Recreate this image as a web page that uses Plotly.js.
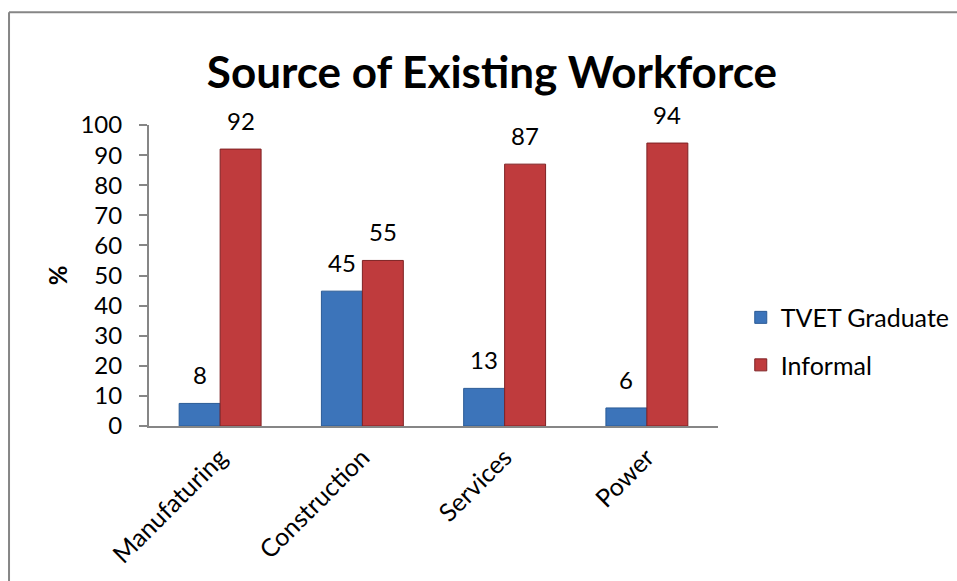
<!DOCTYPE html>
<html>
<head>
<meta charset="utf-8">
<script src="https://cdn.plot.ly/plotly-3.0.1.min.js"></script>
<style>
  html, body { margin: 0; padding: 0; background: #fff; }
  #chart { width: 957px; height: 581px; }
</style>
</head>
<body>
<div id="chart"></div>
<script>
const categories = ["Manufaturing", "Construction", "Services", "Power"];
const tvetValues = [8, 45, 13, 6];
const tvetBarHeights = [7.5, 44.8, 12.5, 6];
const informalValues = [92, 55, 87, 94];
const seriesNames = ["TVET Graduate", "Informal"];
const yTicks = [0, 10, 20, 30, 40, 50, 60, 70, 80, 90, 100];

const FONT = "Lato, 'Open Sans', sans-serif";
const BAR_OFFSET_PX = 20.5;

const traces = [
  {
    type: "bar",
    name: seriesNames[0],
    legendgroup: "a",
    x: categories,
    y: tvetBarHeights,
    marker: { color: "#3c74ba", line: { color: "#2b5b96", width: 1 } },
    hoverinfo: "skip"
  },
  {
    type: "bar",
    name: seriesNames[1],
    legendgroup: "b",
    x: categories,
    y: informalValues,
    marker: { color: "#bf3b3d", line: { color: "#7e2224", width: 1 } },
    hoverinfo: "skip"
  }
];

const labelAnnotations = [];
categories.forEach((c, i) => {
  labelAnnotations.push({
    x: c, y: tvetBarHeights[i], xref: "x", yref: "y",
    text: String(tvetValues[i]), showarrow: false,
    xanchor: "center", yanchor: "bottom",
    xshift: -BAR_OFFSET_PX, yshift: 12,
    font: { family: FONT, size: 24, color: "#000" }
  });
  labelAnnotations.push({
    x: c, y: informalValues[i], xref: "x", yref: "y",
    text: String(informalValues[i]), showarrow: false,
    xanchor: "center", yanchor: "bottom",
    xshift: BAR_OFFSET_PX, yshift: 12,
    font: { family: FONT, size: 24, color: "#000" }
  });
});

const layout = {
  width: 957,
  height: 581,
  margin: { l: 149, r: 239, t: 125, b: 155, pad: 0, autoexpand: false },
  paper_bgcolor: "#fff",
  plot_bgcolor: "#fff",
  font: { family: FONT, size: 24, color: "#000" },
  title: {
    text: "<b>Source of Existing Workforce</b>",
    font: { family: FONT, size: 44, color: "#000" },
    x: 0.514, xref: "container", xanchor: "center",
    y: 0.875, yref: "container", yanchor: "middle"
  },
  barmode: "group",
  bargap: 0.424,
  bargroupgap: 0,
  showlegend: true,
  legend: {
    x: 1.04, y: 0.282, xanchor: "left", yanchor: "middle",
    font: { family: FONT, size: 25, color: "#000" },
    itemwidth: 30, tracegroupgap: 12,
    bgcolor: "rgba(0,0,0,0)"
  },
  xaxis: {
    type: "category",
    tickangle: -45,
    showline: true, linecolor: "#868686", linewidth: 2,
    showgrid: false, zeroline: false,
    ticks: "", ticklabelstandoff: 5,
    tickfont: { family: FONT, size: 25, color: "#000" },
    fixedrange: true
  },
  yaxis: {
    range: [0, 100],
    tickvals: yTicks,
    ticktext: yTicks.map(String),
    showline: true, linecolor: "#868686", linewidth: 2,
    ticks: "outside", ticklen: 8, tickcolor: "#868686", tickwidth: 2,
    ticklabelstandoff: 12,
    showgrid: false, zeroline: false,
    tickfont: { family: FONT, size: 24, color: "#000" },
    title: { text: "<b>%</b>", font: { family: FONT, size: 24, color: "#000" }, standoff: 6 },
    fixedrange: true
  },
  annotations: labelAnnotations,
  shapes: [
    { type: "line", xref: "paper", yref: "paper", x0: -0.246, x1: 1.5, y0: 1.375, y1: 1.375,
      line: { color: "#868686", width: 2 } },
    { type: "line", xref: "paper", yref: "paper", x0: -0.246, x1: -0.246, y0: 1.375, y1: -0.6,
      line: { color: "#868686", width: 2 } }
  ]
};

Plotly.newPlot("chart", traces, layout, { displayModeBar: false, staticPlot: true });
</script>
</body>
</html>
